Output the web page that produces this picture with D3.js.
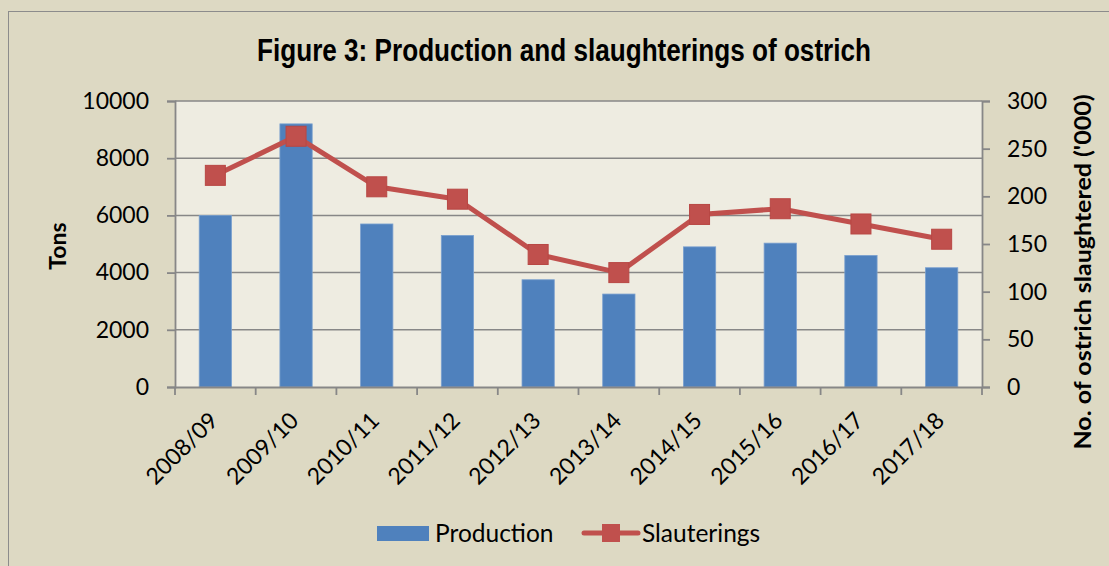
<!DOCTYPE html>
<html>
<head>
<meta charset="utf-8">
<script src="https://cdn.jsdelivr.net/npm/d3@7"></script>
<style>
  html, body { margin: 0; padding: 0; background: #DDD9C3; }
  svg { display: block; }
</style>
</head>
<body>
<svg id="chart" width="1109" height="566"></svg>
<script>
const categories = ["2008/09","2009/10","2010/11","2011/12","2012/13","2013/14","2014/15","2015/16","2016/17","2017/18"];
const production = [6000, 9200, 5700, 5300, 3750, 3250, 4900, 5030, 4600, 4170];
const slaughterings = [222, 263, 210, 197, 139, 120, 181, 187, 171, 155];
const leftTicks = [0, 2000, 4000, 6000, 8000, 10000];
const rightTicks = [0, 50, 100, 150, 200, 250, 300];
const titleText = "Figure 3: Production and slaughterings of ostrich";
const leftTitle = "Tons";
const rightTitle = "No. of ostrich slaughtered ('000)";
const legendLabels = ["Production", "Slauterings"];

const W = 1109, H = 566;
const plot = { left: 175, right: 982, top: 101, bottom: 387 };
const bg = "#DDD9C3", plotBg = "#EEECE1", grid = "#878787";
const blue = "#4F81BD", red = "#C0504D";
const font = "Lato, 'Open Sans', sans-serif";

const svg = d3.select("#chart");
svg.append("rect").attr("width", W).attr("height", H).attr("fill", bg);
// outer chart border
svg.append("rect").attr("x", 8.5).attr("y", 11.5).attr("width", W + 20).attr("height", H + 20)
  .attr("fill", "none").attr("stroke", "#8c8c8c").attr("stroke-width", 1);

const x = d3.scaleBand().domain(categories).range([plot.left, plot.right]).paddingInner(0.6).paddingOuter(0.3);
const xOuter = d3.scaleBand().domain(categories).range([plot.left, plot.right]).padding(0);
const yL = d3.scaleLinear().domain([0, 10000]).range([plot.bottom, plot.top]);
const yR = d3.scaleLinear().domain([0, 300]).range([plot.bottom, plot.top]);

svg.append("rect").attr("x", plot.left).attr("y", plot.top)
  .attr("width", plot.right - plot.left).attr("height", plot.bottom - plot.top).attr("fill", plotBg);

// gridlines
svg.append("g").selectAll("line").data(leftTicks.filter(d => d > 0)).join("line")
  .attr("x1", plot.left).attr("x2", plot.right)
  .attr("y1", d => yL(d)).attr("y2", d => yL(d))
  .attr("stroke", grid).attr("stroke-width", 1.5);

// bars
svg.append("g").selectAll("rect").data(production).join("rect")
  .attr("x", (d, i) => x(categories[i]))
  .attr("y", d => yL(d))
  .attr("width", x.bandwidth())
  .attr("height", d => yL(0) - yL(d))
  .attr("fill", blue)
  .attr("stroke", "#7aa0cf").attr("stroke-width", 0.8);

// axes
function styleAxis(g) {
  g.selectAll("path.domain").attr("stroke", grid).attr("stroke-width", 1.8);
  g.selectAll(".tick line").attr("stroke", grid).attr("stroke-width", 1.8);
  g.selectAll("text").attr("fill", "#000").style("font-family", font);
}

const axL = svg.append("g").attr("transform", `translate(${plot.left},0)`)
  .call(d3.axisLeft(yL).tickValues(leftTicks).tickFormat(d3.format("d")).tickSizeOuter(0).tickSize(8).tickPadding(18));
styleAxis(axL);
axL.selectAll("text").style("font-size", "23px");

const axR = svg.append("g").attr("transform", `translate(${plot.right},0)`)
  .call(d3.axisRight(yR).tickValues(rightTicks).tickFormat(d3.format("d")).tickSizeOuter(0).tickSize(8).tickPadding(17));
styleAxis(axR);
axR.selectAll("text").style("font-size", "23px");

const axB = svg.append("g").attr("transform", `translate(0,${plot.bottom})`)
  .call(d3.axisBottom(xOuter).tickValues([]).tickSizeOuter(0));
styleAxis(axB);
// category boundary ticks
const boundaries = categories.map(c => xOuter(c)).concat([plot.right]);
axB.selectAll("line.bt").data(boundaries).join("line").attr("class", "bt")
  .attr("x1", d => d).attr("x2", d => d).attr("y1", 0).attr("y2", 8)
  .attr("stroke", grid).attr("stroke-width", 1.8);
// category labels
axB.selectAll("text.cat").data(categories).join("text").attr("class", "cat")
  .attr("transform", d => `translate(${xOuter(d) + xOuter.bandwidth() / 2 + 4},${35}) rotate(-45)`)
  .attr("text-anchor", "end")
  .style("font-family", font).style("font-size", "23px").attr("fill", "#000")
  .text(d => d);

// line
const line = d3.line().x((d, i) => x(categories[i]) + x.bandwidth() / 2).y(d => yR(d));
svg.append("path").datum(slaughterings).attr("d", line)
  .attr("fill", "none").attr("stroke", red).attr("stroke-width", 5).attr("stroke-linejoin", "round");
const ms = 20;
svg.append("g").selectAll("rect").data(slaughterings).join("rect")
  .attr("x", (d, i) => x(categories[i]) + x.bandwidth() / 2 - ms / 2)
  .attr("y", d => yR(d) - ms / 2)
  .attr("width", ms).attr("height", ms)
  .attr("fill", red).attr("stroke", "#b84744").attr("stroke-width", 1);

// title
svg.append("text").attr("x", 564).attr("y", 61).attr("text-anchor", "middle")
  .attr("textLength", 614).attr("lengthAdjust", "spacingAndGlyphs")
  .style("font-family", "'Liberation Sans Narrow', 'Arial Narrow', 'Liberation Sans', sans-serif")
  .style("font-weight", "bold").style("font-size", "31px").attr("fill", "#000")
  .text(titleText);

// axis titles
svg.append("text").attr("transform", "translate(66,246) rotate(-90)").attr("text-anchor", "middle")
  .style("font-family", font).style("font-weight", "bold").style("font-size", "23px").attr("fill", "#000")
  .text(leftTitle);
svg.append("text").attr("transform", "translate(1091,272) rotate(-90)").attr("text-anchor", "middle")
  .attr("textLength", 355).attr("lengthAdjust", "spacingAndGlyphs")
  .style("font-family", font).style("font-weight", "bold").style("font-size", "23px").attr("fill", "#000")
  .text(rightTitle);

// legend
const lg = svg.append("g");
lg.append("rect").attr("x", 377).attr("y", 526).attr("width", 52).attr("height", 15).attr("fill", blue);
lg.append("text").attr("x", 435).attr("y", 542).style("font-family", font).style("font-size", "24.5px").attr("fill", "#000").text(legendLabels[0]);
lg.append("line").attr("x1", 584).attr("x2", 638).attr("y1", 533).attr("y2", 533)
  .attr("stroke", red).attr("stroke-width", 5).attr("stroke-linecap", "round");
lg.append("rect").attr("x", 602).attr("y", 524).attr("width", 18).attr("height", 18).attr("fill", red);
lg.append("text").attr("x", 642).attr("y", 542).style("font-family", font).style("font-size", "24.5px").attr("fill", "#000").text(legendLabels[1]);
</script>
</body>
</html>
